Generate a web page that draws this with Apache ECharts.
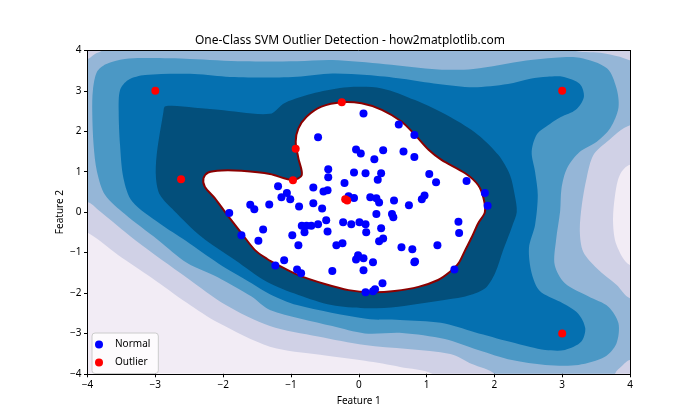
<!DOCTYPE html>
<html>
<head>
<meta charset="utf-8">
<script src="https://cdn.jsdelivr.net/npm/echarts@6/dist/echarts.min.js"></script>
<style>html,body{margin:0;padding:0;background:#fff;}#chart{width:700px;height:420px;}</style>
</head>
<body>
<div id="chart"></div>
<script>
// ---- data ----
const xTicks = [-4, -3, -2, -1, 0, 1, 2, 3, 4];
const yTicks = [-4, -3, -2, -1, 0, 1, 2, 3, 4];
const bandColors = ['#f2ecf5', '#d0d1e6', '#95b6d7', '#4b98c5', '#0570b0', '#034f7b'];

// filled decision-function regions (outer boundary of each level, in data units)
const level0 = [[-5, -5], [5, -5], [5, 5], [-5, 5]];
const level1 = [[-4.5, 4.5], [4.5, 4.5], [4.5, 1.17], [4.00, 1.17], [3.85, 0.92], [3.78, 0.42], [3.75, -0.24], [3.80, -0.81], [4.00, -1.31], [4.5, -1.31], [4.5, -4.5], [1.3, -4.5], [1.08, -4.00], [0.61, -3.83], [0.09, -3.68], [-0.57, -3.53], [-1.31, -3.33], [-2.07, -2.74], [-2.53, -2.25], [-3.05, -1.63], [-3.55, -1.06], [-3.99, -0.52], [-4.5, -0.2]];
const level2 = [[-4.00, 3.79], [-3.89, 3.91], [-3.77, 4.03], [-3.77, 4.5], [3.12, 4.5], [3.14, 4.03], [3.56, 3.94], [3.85, 3.84], [4.03, 3.74], [4.5, 3.74], [4.5, 2.15], [4.00, 2.15], [3.66, 1.74], [3.46, 1.41], [3.36, 0.84], [3.29, 0.18], [3.26, -0.48], [3.31, -0.98], [3.51, -1.39], [3.80, -1.80], [4.00, -2.13], [4.5, -2.13], [4.5, -3.66], [4.00, -3.66], [3.88, -3.81], [3.78, -4.00], [3.78, -4.3], [2.00, -4.3], [2.00, -4.00], [1.67, -3.76], [1.35, -3.51], [0.09, -3.29], [-0.6, -3.08], [-1.31, -2.82], [-1.96, -2.30], [-2.53, -1.63], [-3.30, -0.69], [-3.84, 0.05], [-4.00, 0.25], [-4.5, 0.25], [-4.5, 3.79]];
const level3 = [[-3.92, 3.02], [-3.86, 3.47], [-3.73, 3.66], [-3.45, 3.79], [-3.08, 3.81], [-2.49, 3.79], [-1.69, 3.73], [-0.91, 3.73], [-0.39, 3.76], [0.39, 3.66], [1.17, 3.53], [1.69, 3.54], [2.47, 3.75], [2.89, 3.82], [3.26, 3.82], [3.66, 3.56], [3.80, 3.07], [3.83, 2.58], [3.71, 2.08], [3.51, 1.74], [3.26, 1.49], [3.07, 1.08], [2.99, 0.59], [2.97, 0.03], [2.91, -0.69], [2.89, -1.31], [3.04, -1.76], [3.39, -2.09], [3.68, -2.34], [3.83, -2.75], [3.80, -3.25], [3.63, -3.58], [3.24, -3.78], [2.75, -3.78], [2.26, -3.66], [1.76, -3.41], [1.27, -3.14], [0.64, -2.99], [0.09, -3.00], [-0.39, -2.82], [-1.31, -2.42], [-1.58, -2.09], [-2.08, -1.61], [-2.53, -1.26], [-2.96, -0.69], [-3.45, -0.05], [-3.74, 0.42], [-3.86, 1.00], [-3.91, 1.66], [-3.93, 2.48]];
const level4 = [[-3.52, 3.02], [-3.40, 3.27], [-3.15, 3.39], [-2.49, 3.42], [-1.96, 3.35], [-1.44, 3.33], [-0.91, 3.35], [-0.39, 3.43], [0.12, 3.39], [0.64, 3.30], [1.17, 3.17], [1.69, 3.09], [2.20, 3.17], [2.53, 3.30], [2.78, 3.35], [3.01, 3.35], [3.26, 3.17], [3.32, 2.85], [3.20, 2.53], [2.98, 2.35], [2.82, 2.18], [2.63, 1.93], [2.55, 1.49], [2.60, 1.00], [2.64, 0.42], [2.60, -0.32], [2.51, -0.89], [2.55, -1.51], [2.67, -1.95], [2.97, -2.22], [3.23, -2.50], [3.34, -2.87], [3.28, -3.21], [3.04, -3.41], [2.75, -3.41], [2.53, -3.34], [2.23, -3.21], [1.71, -2.97], [1.21, -2.74], [0.61, -2.67], [0.11, -2.64], [-0.91, -2.30], [-1.31, -2.03], [-1.58, -1.76], [-2.07, -1.27], [-2.55, -0.71], [-2.93, -0.29], [-3.34, 0.26], [-3.47, 0.84], [-3.52, 1.66], [-3.54, 2.48]];
const level5 = [[-2.86, 2.61], [-2.76, 2.63], [-2.07, 2.53], [-1.31, 2.43], [-1.09, 2.70], [-0.64, 2.95], [-0.16, 3.09], [0.34, 3.06], [0.83, 2.77], [1.35, 2.35], [1.76, 1.91], [2.06, 1.41], [2.23, 0.92], [2.30, 0.42], [2.33, 0.00], [2.26, -0.36], [2.13, -0.94], [2.01, -1.51], [1.86, -1.89], [1.57, -2.09], [1.35, -2.15], [0.58, -2.34], [0.09, -2.38], [-0.40, -2.30], [-0.89, -2.05], [-1.35, -1.73], [-1.82, -1.19], [-2.32, -0.61], [-2.72, 0.03], [-2.93, 0.42], [-2.99, 0.84], [-2.98, 1.41], [-2.88, 2.48]];
// decision boundary (decision function = 0), inside is white
const boundary = [[-2.29, 0.84], [-2.22, 0.98], [-2.02, 1.03], [-1.73, 1.02], [-1.31, 0.94], [-0.97, 0.79], [-0.84, 0.92], [-0.89, 1.33], [-0.93, 1.74], [-0.89, 2.07], [-0.77, 2.36], [-0.55, 2.61], [-0.25, 2.72], [0.04, 2.69], [0.34, 2.53], [0.63, 2.24], [0.83, 1.91], [1.03, 1.54], [1.22, 1.29], [1.57, 0.96], [1.76, 0.67], [1.84, 0.34], [1.86, 0.00], [1.76, -0.28], [1.67, -0.61], [1.57, -0.94], [1.47, -1.27], [1.35, -1.47], [1.17, -1.68], [0.88, -1.85], [0.53, -1.95], [0.19, -1.98], [-0.15, -1.93], [-0.50, -1.78], [-0.89, -1.56], [-1.19, -1.31], [-1.35, -1.16], [-1.53, -0.94], [-1.73, -0.52], [-1.97, 0.00], [-2.12, 0.34], [-2.27, 0.63]];

const normalPoints = [[0.07, 2.44], [0.59, 2.17], [0.82, 1.91], [-0.60, 1.85], [-0.04, 1.55], [0.03, 1.45], [0.36, 1.53], [0.66, 1.50], [0.23, 1.31], [0.82, 1.36], [-0.45, 1.06], [-0.07, 0.98], [0.10, 0.96], [0.33, 0.96], [1.04, 0.94], [-0.45, 0.86], [-0.21, 0.72], [0.28, 0.80], [1.14, 0.74], [-1.19, 0.64], [-0.67, 0.61], [-0.46, 0.54], [-0.52, 0.51], [-1.06, 0.47], [-1.14, 0.37], [-1.01, 0.32], [-0.15, 0.39], [-0.07, 0.35], [0.17, 0.37], [0.26, 0.34], [0.30, 0.24], [0.52, 0.29], [0.97, 0.41], [0.93, 0.32], [-1.32, 0.19], [-0.88, 0.14], [-0.67, 0.22], [-0.54, 0.09], [0.74, 0.17], [0.26, -0.05], [0.49, -0.05], [1.59, 0.77], [1.86, 0.47], [1.90, 0.16], [1.47, -0.24], [1.48, -0.52], [1.41, -1.42], [-1.91, -0.02], [-1.60, 0.18], [-1.54, 0.07], [-1.41, -0.43], [-1.73, -0.57], [-1.48, -0.71], [-0.84, -0.34], [-0.77, -0.34], [-0.70, -0.34], [-0.60, -0.30], [-0.48, -0.20], [-0.23, -0.25], [-0.11, -0.30], [0.01, -0.25], [0.10, -0.30], [0.51, -0.13], [-0.98, -0.57], [-0.80, -0.50], [-0.46, -0.48], [0.11, -0.50], [0.33, -0.40], [-0.89, -0.82], [-0.33, -0.82], [-0.24, -0.77], [0.30, -0.72], [0.36, -0.65], [0.63, -0.87], [0.79, -0.92], [1.16, -0.82], [-1.10, -1.19], [-1.23, -1.32], [-0.91, -1.42], [-0.85, -1.51], [-0.39, -1.46], [-0.04, -1.17], [-0.01, -1.07], [0.07, -1.14], [0.21, -1.24], [0.07, -1.44], [0.35, -1.76], [0.10, -1.98], [0.21, -1.96], [0.24, -1.91], [0.82, -1.24], [0.83, -1.22]];
const outlierPoints = [[-3, 3], [3, 3], [3, -3], [-2.62, 0.81], [-0.93, 1.57], [-0.25, 2.72], [-0.97, 0.79], [-0.20, 0.32], [-0.17, 0.29]];

// ---- chart ----
const layers = [
  { pts: level0, fill: bandColors[0] },
  { pts: level1, fill: bandColors[1] },
  { pts: level2, fill: bandColors[2] },
  { pts: level3, fill: bandColors[3] },
  { pts: level4, fill: bandColors[4] },
  { pts: level5, fill: bandColors[5] },
  { pts: boundary, fill: '#ffffff', stroke: '#8b0000', lw: 2 }
];

const FONT = 'Noto Sans';
const fmt = v => (v < 0 ? '\u2212' + Math.abs(v) : String(v));

const chart = echarts.init(document.getElementById('chart'), null, { renderer: 'canvas' });
chart.setOption({
  animation: false,
  backgroundColor: '#ffffff',
  title: {
    text: 'One-Class SVM Outlier Detection - how2matplotlib.com',
    left: 'center', top: 30,
    textStyle: { fontFamily: FONT, fontSize: 12, fontWeight: 'normal', color: '#000' }
  },
  grid: { left: 87.5, right: 70, top: 50.4, bottom: 46.2 },
  xAxis: [{
    type: 'value', min: xTicks[0], max: xTicks[xTicks.length - 1], interval: 1, z: 5,
    name: 'Feature 1', nameLocation: 'middle', nameGap: 22, nameMoveOverlap: false,
    nameTextStyle: { fontFamily: FONT, fontSize: 10, color: '#000' },
    axisLine: { onZero: false, lineStyle: { color: '#000', width: 1 } },
    axisTick: { length: 3.5, lineStyle: { color: '#000' } },
    axisLabel: { margin: 6, fontFamily: FONT, fontSize: 10, color: '#000', formatter: fmt },
    splitLine: { show: false }
  }, {
    type: 'value', position: 'top', min: xTicks[0], max: xTicks[xTicks.length - 1], z: 5,
    axisLine: { onZero: false, lineStyle: { color: '#000', width: 1 } },
    axisTick: { show: false }, axisLabel: { show: false }, splitLine: { show: false }
  }],
  yAxis: [{
    type: 'value', min: yTicks[0], max: yTicks[yTicks.length - 1], interval: 1, z: 5,
    name: 'Feature 2', nameLocation: 'middle', nameGap: 22, nameRotate: 90, nameMoveOverlap: false,
    nameTextStyle: { fontFamily: FONT, fontSize: 10, color: '#000' },
    axisLine: { show: true, onZero: false, lineStyle: { color: '#000', width: 1 } },
    axisTick: { show: true, length: 3.5, lineStyle: { color: '#000' } },
    axisLabel: { margin: 6, fontFamily: FONT, fontSize: 10, color: '#000', formatter: fmt },
    splitLine: { show: false }
  }, {
    type: 'value', position: 'right', min: yTicks[0], max: yTicks[yTicks.length - 1], z: 5,
    axisLine: { show: true, onZero: false, lineStyle: { color: '#000', width: 1 } },
    axisTick: { show: false }, axisLabel: { show: false }, splitLine: { show: false }
  }],
  legend: {
    data: [{ name: 'Normal', icon: 'circle' }, { name: 'Outlier', icon: 'circle' }],
    orient: 'vertical', left: 92, top: 333,
    itemWidth: 22, itemHeight: 8, itemGap: 8,
    padding: [6.5, 8, 6, 3],
    selectedMode: false,
    borderColor: '#cccccc', borderWidth: 1, borderRadius: 3,
    backgroundColor: 'rgba(255,255,255,0.8)',
    textStyle: { fontFamily: FONT, fontSize: 10, color: '#000', lineHeight: 8 }
  },
  series: [
    {
      type: 'custom', name: 'decision', clip: true, z: 1, silent: true,
      data: layers.map((l, i) => [i]),
      renderItem: function (params, api) {
        const L = layers[params.dataIndex];
        const pts = L.pts.map(p => api.coord(p));
        return {
          type: 'polygon',
          shape: { points: pts, smooth: 0.3 },
          style: { fill: L.fill, stroke: L.stroke || null, lineWidth: L.lw || 0 }
        };
      }
    },
    {
      type: 'scatter', name: 'Normal', data: normalPoints, symbol: 'circle', symbolSize: 8,
      itemStyle: { color: '#0000ff', opacity: 1 }, z: 3
    },
    {
      type: 'scatter', name: 'Outlier', data: outlierPoints, symbol: 'circle', symbolSize: 8,
      itemStyle: { color: '#ff0000', opacity: 1 }, z: 4
    }
  ]
});
</script>
</body>
</html>
